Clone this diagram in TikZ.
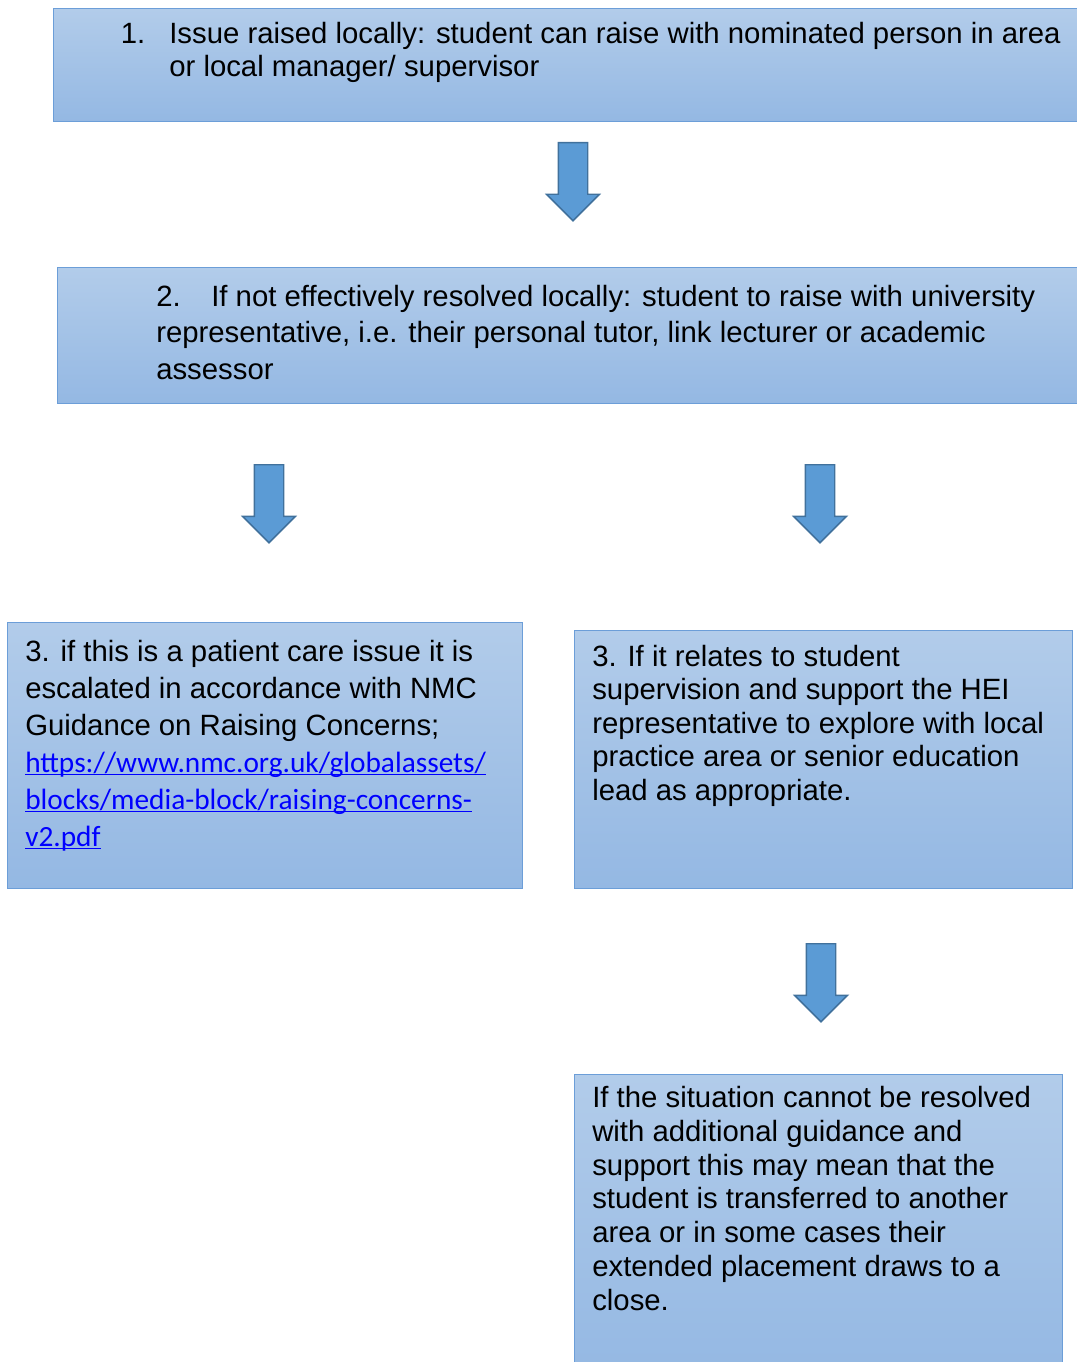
\documentclass[tikz,border=0pt]{standalone}
\usepackage{fontspec}
\setmainfont{Liberation Sans}
\newfontfamily\linkfont{Carlito}
\usetikzlibrary{shapes.arrows}
\definecolor{boxtop}{RGB}{178,204,234}
\definecolor{boxbot}{RGB}{148,184,227}
\definecolor{boxline}{RGB}{108,158,216}
\definecolor{arrfill}{RGB}{91,155,213}
\definecolor{arrline}{RGB}{65,113,156}
\definecolor{linkblue}{RGB}{0,0,255}
\newcommand{\lnk}[1]{{\linkfont\color{linkblue}$\underline{\smash{\hbox{#1}}}$}}

\begin{document}
\begin{tikzpicture}[x=0.75pt, y=-0.75pt,
  box/.style={rectangle, draw=boxline, line width=1pt, top color=boxtop, bottom color=boxbot, anchor=north west, inner sep=0},
  txt/.style={anchor=base west, inner sep=0, align=left},
  blockarrow/.style={single arrow, rotate=-90, anchor=tail, draw=arrline, fill=arrfill, line width=1.1pt, minimum height=58.5pt, minimum width=30pt, inner xsep=0, inner ysep=10.5pt, single arrow head extend=8.8pt}]
  \useasboundingbox (0,0) rectangle (1076,1362);
  % boxes
  \node[box, minimum width=778pt, minimum height=84.75pt] (1) at (53,8) {};
  \node[box, minimum width=778pt, minimum height=102pt] (2) at (57,267) {};
  \node[box, minimum width=386.6pt, minimum height=199.5pt] (3a) at (6.5,622) {};
  \node[box, minimum width=373.5pt, minimum height=193.5pt] (3b) at (573.5,630) {};
  \node[box, minimum width=366.4pt, minimum height=225pt] (4) at (573.5,1074) {};
  % block arrows
  \node[blockarrow] (a1) at (573,142) {};
  \node[blockarrow] (a2) at (269,464) {};
  \node[blockarrow] (a3) at (820,464) {};
  \node[blockarrow] (a4) at (821,943) {};
  % texts (anchored at the baseline of the last line)
  \node[txt, font=\fontsize{22}{25}\selectfont] (t1) at (120.5,76.5)
    {\makebox[36.4pt][l]{1.}Issue raised locally: student can raise with nominated person in area\\
     \hspace*{36.4pt}or local manager/ supervisor};
  \node[txt, font=\fontsize{22}{27.4}\selectfont] (t2) at (156,379.5)
    {\makebox[41.25pt][l]{2.}If not effectively resolved locally: student to raise with university\\
     representative, i.e. their personal tutor, link lecturer or academic\\
     assessor};
  \node[txt, font=\fontsize{22}{27.75}\selectfont] (t3a) at (25,846)
    {3. if this is a patient care issue it is\\
     escalated in accordance with NMC\\
     Guidance on Raising Concerns;\\
     \lnk{https://www.nmc.org.uk/globalassets/}\\
     \lnk{blocks/media-block/raising-concerns-}\\
     \lnk{v2.pdf}};
  \node[txt, font=\fontsize{22}{25.1}\selectfont] (t3b) at (592,800)
    {3. If it relates to student\\
     supervision and support the HEI\\
     representative to explore with local\\
     practice area or senior education\\
     lead as appropriate.};
  \node[txt, font=\fontsize{22}{25.3}\selectfont] (t4) at (592,1310)
    {If the situation cannot be resolved\\
     with additional guidance and\\
     support this may mean that the\\
     student is transferred to another\\
     area or in some cases their\\
     extended placement draws to a\\
     close.};
\end{tikzpicture}
\end{document}
